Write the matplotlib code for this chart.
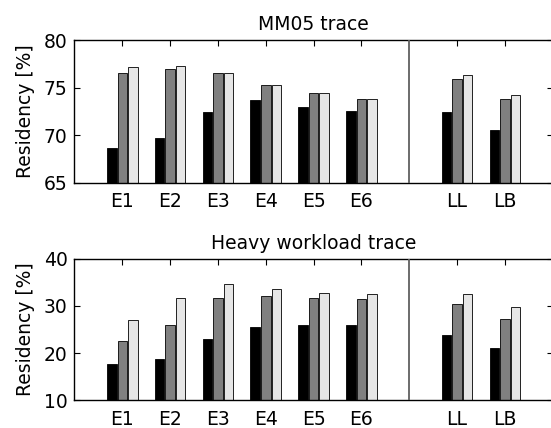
import numpy as np
import matplotlib
matplotlib.use("Agg")
import matplotlib.pyplot as plt

# Category labels and their x positions (gap at 7 for the separator)
labels = ["E1", "E2", "E3", "E4", "E5", "E6", "LL", "LB"]
positions = [1, 2, 3, 4, 5, 6, 8, 9]

# MM05 trace residency [%], three series per category
mm05_black = [68.6, 69.7, 72.4, 73.7, 73.0, 72.5, 72.4, 70.5]
mm05_dark = [76.5, 77.0, 76.5, 75.3, 74.4, 73.8, 75.9, 73.8]
mm05_light = [77.2, 77.3, 76.5, 75.3, 74.4, 73.8, 76.3, 74.2]

# Heavy workload trace residency [%]
heavy_black = [17.6, 18.8, 22.9, 25.5, 25.9, 25.9, 23.8, 21.0]
heavy_dark = [22.5, 26.0, 31.7, 32.0, 31.7, 31.5, 30.3, 27.2]
heavy_light = [27.1, 31.7, 34.7, 33.5, 32.8, 32.5, 32.6, 29.8]

bar_colors = ["#000000", "#808080", "#e6e6e6"]
plt.rcParams["font.family"] = ["DejaVu Sans"]
plt.rcParams["font.size"] = 13.5


# draw one panel of grouped bars
def draw_panel(ax, series, ylim, yticks, title):
    x = np.array(positions, dtype=float)
    offsets = [-0.22, 0.0, 0.22]
    for vals, off, col in zip(series, offsets, bar_colors):
        ax.bar(x + off, np.array(vals) - ylim[0], bottom=ylim[0], width=0.2,
               color=col, edgecolor="black", linewidth=0.6, zorder=2)
    ax.axvline(7, color="#606060", linewidth=1.3, zorder=3)
    ax.set_xlim(0, 10)
    ax.set_ylim(*ylim)
    ax.set_xticks(positions)
    ax.set_xticklabels(labels)
    ax.set_yticks(yticks)
    ax.tick_params(direction="in", length=4, width=0.8, top=True, right=True)
    ax.tick_params(axis="x", pad=7)
    ax.tick_params(axis="y", pad=5)
    for s in ax.spines.values():
        s.set_linewidth(1.0)
    ax.set_ylabel("Residency [%]", labelpad=6)
    ax.set_title(title, pad=7, fontsize=13.5)


fig = plt.figure(figsize=(5.51, 4.28), dpi=100)
ax1 = fig.add_axes([0.1352, 0.573, 0.868, 0.3335])
ax2 = fig.add_axes([0.1352, 0.0647, 0.868, 0.3309])

draw_panel(ax1, [mm05_black, mm05_dark, mm05_light], (65, 80), [65, 70, 75, 80], "MM05 trace")
draw_panel(ax2, [heavy_black, heavy_dark, heavy_light], (10, 40), [10, 20, 30, 40], "Heavy workload trace")

fig.savefig("out.png", dpi=100)
